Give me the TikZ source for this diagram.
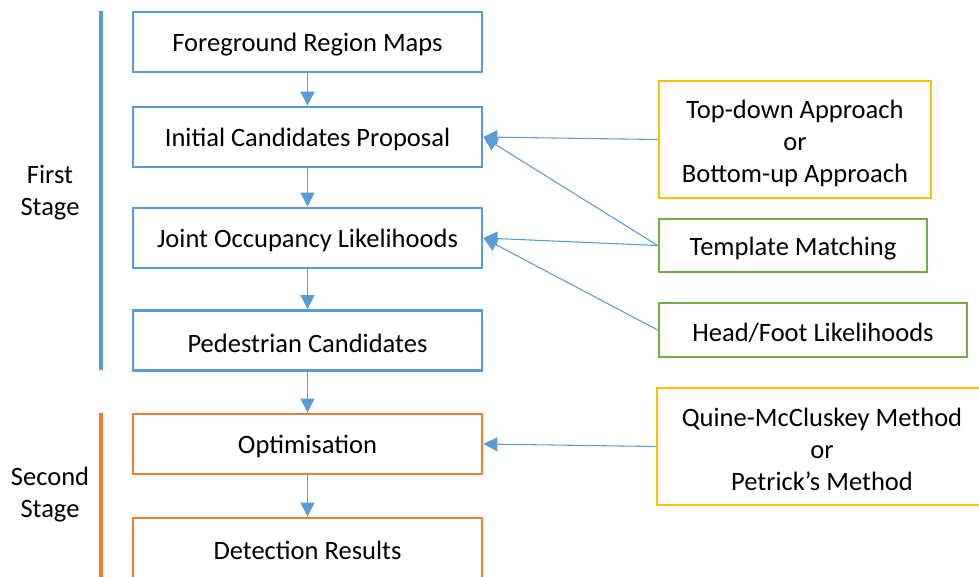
\documentclass[tikz,border=0pt]{standalone}
\usepackage{fontspec}
\setmainfont{Carlito}
\usetikzlibrary{arrows.meta, positioning}
\definecolor{stageblue}{HTML}{5B9BD5}
\definecolor{stageorange}{HTML}{ED7D31}
\definecolor{methodyellow}{HTML}{FFC000}
\definecolor{methodgreen}{HTML}{70AD47}
\newcommand{\lowerby}[1]{\rule{0pt}{#1}}

\begin{document}
\begin{tikzpicture}[x=0.75pt, y=-0.75pt,
        boxtext/.style={align=center, inner sep=0pt, font=\fontsize{19.9pt}{24pt}\selectfont},
        oneline/.style={execute at begin node={\rule{0pt}{18pt}}},
        stepbox/.style={boxtext, oneline, draw, line width=2.1pt, minimum width=261.75pt, minimum height=45pt},
        methodbox/.style={boxtext, draw, line width=2.1pt},
        flow/.style={stageblue, line width=0.8pt, -{Triangle[length=10.5pt, width=10.5pt]}}]
    \clip (0, 0) rectangle (979, 577);

    % stage bars
    \draw[stageblue, line width=3pt] (101, 11) -- (101, 370);
    \draw[stageorange, line width=3pt] (101, 413) -- (101, 580);
    \node[boxtext] (first) at (50, 191) {\lowerby{16.5pt}First\\Stage};
    \node[boxtext] (second) at (50, 493) {\lowerby{16.5pt}Second\\Stage};

    % main steps
    \node[stepbox, stageblue, text=black] (frm) at (307.5, 42) {Foreground Region Maps};
    \node[stepbox, stageblue, text=black] (icp) at (307.5, 137) {Initial Candidates Proposal};
    \node[stepbox, stageblue, text=black] (jol) at (307.5, 238) {Joint Occupancy Likelihoods};
    \node[stepbox, stageblue, text=black] (pc) at (307.5, 340.5) {Pedestrian Candidates};
    \node[stepbox, stageorange, text=black] (opt) at (307.5, 444) {Optimisation};
    \node[stepbox, stageorange, text=black] (dr) at (307.5, 548) {Detection Results};

    % methods
    \node[methodbox, methodyellow, text=black, minimum width=204pt, minimum height=87.75pt] (tdbu) at (795, 139.5) {\lowerby{19.5pt}Top-down Approach\\or\\Bottom-up Approach};
    \node[methodbox, methodgreen, text=black, oneline, minimum width=201pt, minimum height=39.75pt] (tm) at (793, 245.5) {Template Matching};
    \node[methodbox, methodgreen, text=black, oneline, minimum width=231pt, minimum height=40.5pt] (hfl) at (813, 330) {Head/Foot Likelihoods};
    \node[methodbox, methodyellow, text=black, minimum width=247.5pt, minimum height=87.75pt] (qmc) at (822, 446.5) {\lowerby{18pt}Quine-McCluskey Method\\or\\Petrick’s Method};

    \draw[flow] (frm) -- (icp);
    \draw[flow] (icp) -- (jol);
    \draw[flow] (jol) -- (pc);
    \draw[flow] (pc) -- (opt);
    \draw[flow] (opt) -- (dr);

    \draw[flow] (tdbu.west) -- (icp.east);
    \draw[flow] (tm.west) -- (icp.east);
    \draw[flow] (tm.west) -- (jol.east);
    \draw[flow] (hfl.west) -- (jol.east);
    \draw[flow] (qmc.west) -- (opt.east);
\end{tikzpicture}
\end{document}
